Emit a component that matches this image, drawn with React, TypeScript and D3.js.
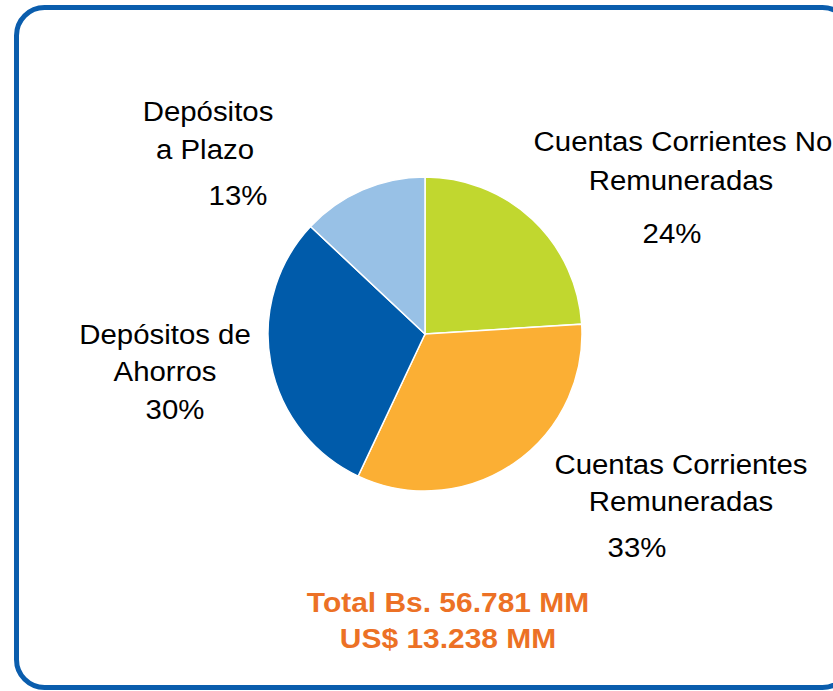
import React from "react";
import * as d3 from "d3";

const categories = [
  "Cuentas Corrientes No Remuneradas",
  "Cuentas Corrientes Remuneradas",
  "Depósitos de Ahorros",
  "Depósitos a Plazo",
];
const shares = [24, 33, 30, 13];
const colors = ["#C1D72F", "#FBAF34", "#005BAA", "#98C1E6"];

// label lines per slice (same order as categories)
const labelLines = [
  ["Cuentas Corrientes No", "Remuneradas", "24%"],
  ["Cuentas Corrientes", "Remuneradas", "33%"],
  ["Depósitos de", "Ahorros", "30%"],
  ["Depósitos", "a Plazo", "13%"],
];
const totals = ["Total Bs. 56.781 MM", "US$ 13.238 MM"];

const W = 833;
const H = 691;
const cx = 425;
const cy = 334;
const r = 157;

// label anchor positions (centre x, baseline y) for each line
const labelPos = [
  [[683, 151], [681, 190], [672, 243]],
  [[681, 474], [681, 511], [637, 557]],
  [[165, 344], [165, 381], [175, 419]],
  [[208, 121], [205, 159], [238, 205]],
];

export default function App() {
  const data = shares.map((v, i) => ({ name: categories[i], value: v, i }));
  const pie = d3
    .pie<any>()
    .value((d) => d.value)
    .sort(null)
    .startAngle(0)
    .endAngle(2 * Math.PI);
  const arc = d3.arc<any>().innerRadius(0).outerRadius(r);
  const arcs = pie(data);

  return (
    <svg
      width={W}
      height={H}
      style={{ position: "absolute", left: 0, top: 0, background: "#fff" }}
      fontFamily="'Liberation Sans', Arial, sans-serif"
    >
      <rect
        x={16.5}
        y={7.5}
        width={834}
        height={680}
        rx={28}
        fill="#fff"
        stroke="#0A5DAD"
        strokeWidth={5}
      />
      <g transform={`translate(${cx},${cy})`}>
        {arcs.map((a, i) => (
          <path
            key={i}
            d={arc(a) || ""}
            fill={colors[i]}
            stroke="#fff"
            strokeWidth={1.5}
          />
        ))}
      </g>
      {labelLines.map((lines, i) =>
        lines.map((t, j) => (
          <text
            key={`${i}-${j}`}
            transform={`translate(${labelPos[i][j][0]},${labelPos[i][j][1]}) scale(1.05,1)`}
            textAnchor="middle"
            fontSize={28}
            fill="#000"
          >
            {t}
          </text>
        ))
      )}
      {totals.map((t, i) => (
        <text
          key={t}
          transform={`translate(448,${612 + i * 36}) scale(1.07,1)`}
          textAnchor="middle"
          fontSize={28}
          fontWeight="bold"
          fill="#EC7125"
        >
          {t}
        </text>
      ))}
    </svg>
  );
}
